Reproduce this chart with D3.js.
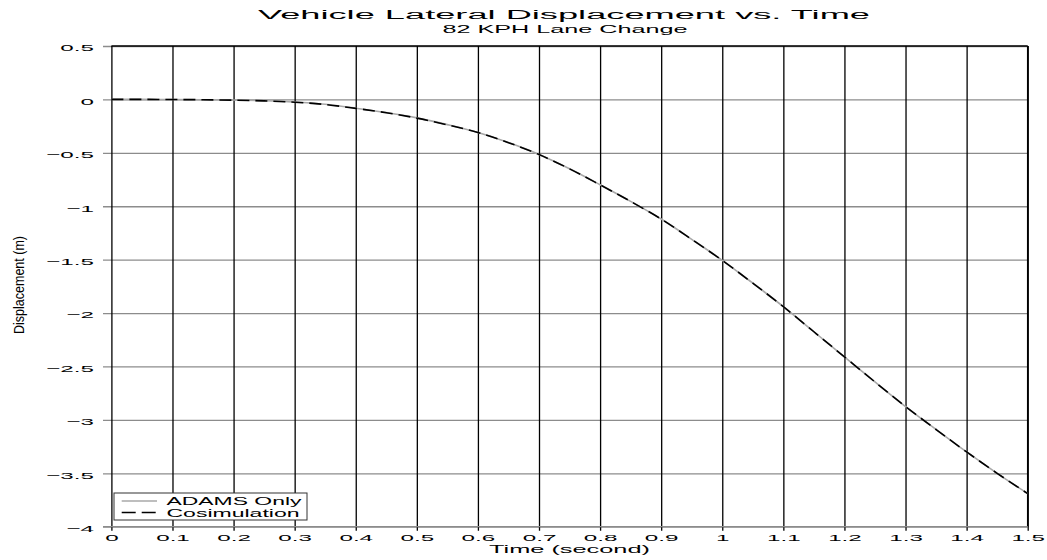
<!DOCTYPE html>
<html>
<head>
<meta charset="utf-8">
<script src="https://cdn.jsdelivr.net/npm/d3@7"></script>
<style>
  html, body { margin: 0; padding: 0; background: #fff; }
  svg { display: block; }
  text { font-family: "Liberation Sans", Arial, Helvetica, sans-serif; fill: #000; }
</style>
</head>
<body>
<svg id="chart" width="1047" height="560"></svg>
<script>
const titleText = "Vehicle Lateral Displacement vs. Time";
const subtitleText = "82 KPH Lane Change";
const xLabelText = "Time (second)";
const yLabelText = "Displacement (m)";
const seriesNames = ["ADAMS Only", "Cosimulation"];

const timeValues = [0, 0.05, 0.1, 0.15, 0.2, 0.25, 0.3, 0.35, 0.4, 0.45, 0.5, 0.55, 0.6, 0.65, 0.7, 0.75,
  0.8, 0.85, 0.9, 0.95, 1.0, 1.05, 1.1, 1.15, 1.2, 1.25, 1.3, 1.35, 1.4, 1.45, 1.5];
const adamsValues = [0, 0, -0.001, -0.003, -0.006, -0.012, -0.024, -0.046, -0.082, -0.123, -0.173, -0.236,
  -0.309, -0.404, -0.515, -0.649, -0.799, -0.955, -1.12, -1.31, -1.506, -1.72, -1.94, -2.175, -2.41,
  -2.645, -2.875, -3.09, -3.30, -3.50, -3.69];
const cosimValues = [0, 0, -0.001, -0.003, -0.007, -0.014, -0.026, -0.048, -0.084, -0.125, -0.175, -0.238,
  -0.31, -0.405, -0.516, -0.65, -0.80, -0.955, -1.12, -1.31, -1.507, -1.72, -1.94, -2.175, -2.41,
  -2.645, -2.875, -3.09, -3.30, -3.50, -3.69];

const xTicks = [0, 0.1, 0.2, 0.3, 0.4, 0.5, 0.6, 0.7, 0.8, 0.9, 1, 1.1, 1.2, 1.3, 1.4, 1.5];
const yTicks = [0.5, 0, -0.5, -1, -1.5, -2, -2.5, -3, -3.5, -4];

const svg = d3.select("#chart");
const L = 111.4, R = 1027.7, T = 46, B = 526.7;
const SX = 2.55;

const x = d3.scaleLinear().domain([0, 1.5]).range([L, R]);
const y = d3.scaleLinear().domain([-4, 0.5]).range([B, T]);

const fmt = v => (v < 0 ? "\u2212" : "") + String(Math.abs(v));

// horizontal grid + y ticks
const yAxis = d3.axisLeft(y).tickValues(yTicks).tickSize(R - 103).tickPadding(9).tickFormat(fmt);
const gy = svg.append("g").attr("transform", `translate(${R},0)`).call(yAxis);
gy.select(".domain").remove();
gy.selectAll(".tick line").attr("stroke", "#8c8c8c").attr("stroke-width", 1.3);
gy.selectAll(".tick text")
  .attr("x", 0).attr("dy", 0)
  .attr("transform", `translate(${-(R - 94)},4.8) scale(${SX},1)`)
  .attr("font-size", "9.5px")
  .style("font-family", '"Liberation Sans", Arial, sans-serif')
  .attr("fill", "#000");

// vertical grid + x ticks
const xAxis = d3.axisBottom(x).tickValues(xTicks).tickSize(530.7 - T).tickFormat(d => String(d));
const gx = svg.append("g").attr("transform", `translate(0,${T})`).call(xAxis);
gx.select(".domain").remove();
gx.selectAll(".tick line").attr("stroke", "#000").attr("stroke-width", 1.3);
gx.selectAll(".tick text")
  .attr("y", 0).attr("dy", 0)
  .attr("transform", `translate(0,${541.2 - T}) scale(${SX},1)`)
  .attr("font-size", "9.5px")
  .style("font-family", '"Liberation Sans", Arial, sans-serif')
  .attr("fill", "#000");

// borders
svg.append("line").attr("x1", L).attr("x2", R).attr("y1", T).attr("y2", T).attr("stroke", "#000").attr("stroke-width", 1.3);
svg.append("line").attr("x1", R).attr("x2", R).attr("y1", T).attr("y2", B).attr("stroke", "#000").attr("stroke-width", 1.5);
svg.append("line").attr("x1", 103).attr("x2", R).attr("y1", B).attr("y2", B).attr("stroke", "#8c8c8c").attr("stroke-width", 1.3);

// lines
const adamsData = timeValues.map((t, i) => [t, adamsValues[i]]);
const cosimData = timeValues.map((t, i) => [t, cosimValues[i]]);
const line = d3.line().x(d => x(d[0])).y(d => y(d[1])).curve(d3.curveMonotoneX);

svg.append("path").datum(adamsData).attr("d", line)
  .attr("fill", "none").attr("stroke", "#a8a8a8").attr("stroke-width", 1.6);
svg.append("path").datum(cosimData).attr("d", line)
  .attr("fill", "none").attr("stroke", "#000").attr("stroke-width", 1.6)
  .attr("stroke-dasharray", "12,6");

// titles
svg.append("text").attr("x", 564).attr("y", 19).attr("text-anchor", "middle")
  .attr("font-size", "12.5px").attr("textLength", 612).attr("lengthAdjust", "spacingAndGlyphs")
  .text(titleText);
svg.append("text").attr("x", 565).attr("y", 33).attr("text-anchor", "middle")
  .attr("font-size", "10.2px").attr("textLength", 245).attr("lengthAdjust", "spacingAndGlyphs")
  .text(subtitleText);
svg.append("text").attr("x", 569.5).attr("y", 552.5).attr("text-anchor", "middle")
  .attr("font-size", "11.5px").attr("textLength", 161).attr("lengthAdjust", "spacingAndGlyphs")
  .text(xLabelText);
svg.append("text").attr("transform", "translate(24,285) rotate(-90)").attr("text-anchor", "middle")
  .attr("font-size", "14px").attr("textLength", 98).attr("lengthAdjust", "spacingAndGlyphs")
  .text(yLabelText);

// legend
const lg = svg.append("g");
lg.append("rect").attr("x", 114).attr("y", 493).attr("width", 193).attr("height", 27)
  .attr("fill", "#fff").attr("stroke", "#333").attr("stroke-width", 1);
const legendStyles = [
  { stroke: "#a8a8a8", dash: null, len: 135 },
  { stroke: "#000", dash: "14,6", len: 133 }
];
seriesNames.forEach((name, i) => {
  const ly = 501 + i * 11.5;
  lg.append("line").attr("x1", 121.7).attr("x2", 157).attr("y1", ly).attr("y2", ly)
    .attr("stroke", legendStyles[i].stroke).attr("stroke-width", 1.5)
    .attr("stroke-dasharray", legendStyles[i].dash);
  lg.append("text").attr("x", 166.5).attr("y", ly + 4.2)
    .attr("font-size", "11.5px").attr("textLength", legendStyles[i].len).attr("lengthAdjust", "spacingAndGlyphs")
    .text(name);
});
</script>
</body>
</html>
